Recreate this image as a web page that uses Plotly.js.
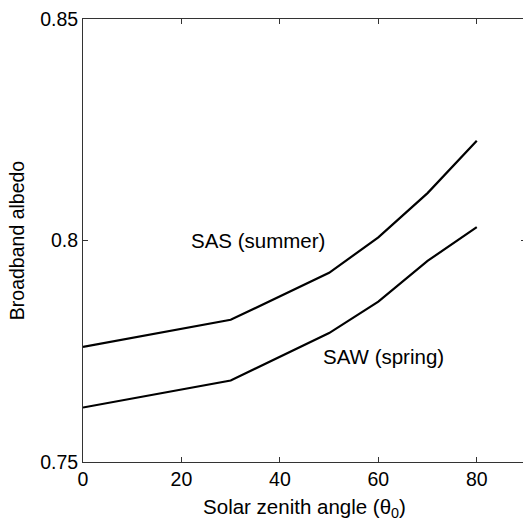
<!DOCTYPE html>
<html>
<head>
<meta charset="utf-8">
<script src="https://cdn.plot.ly/plotly-3.0.1.min.js"></script>
<style>
html,body{margin:0;padding:0;overflow:hidden;background:#fff;}
#chart{width:526px;height:521px;}
</style>
</head>
<body>
<div id="chart"></div>
<script>
const zenithAngles = [0, 30, 50, 60, 70, 80];
const sasSummer = [0.7760, 0.7821, 0.7927, 0.8007, 0.8107, 0.8225];
const sawSpring = [0.7623, 0.7684, 0.7791, 0.7862, 0.7954, 0.8030];
const xTicks = [0, 20, 40, 60, 80];
const yTicks = [0.75, 0.8, 0.85];
const yTickLabels = ['0.75', '0.8', '0.85'];

const font = {family: 'Liberation Sans, Arial, Helvetica, sans-serif', size: 19.5, color: '#000'};
const labelFont = {family: 'Liberation Sans, Arial, Helvetica, sans-serif', size: 20.5, color: '#000'};

const traces = [
  {x: zenithAngles, y: sasSummer, mode: 'lines', name: 'SAS (summer)',
   line: {color: '#000', width: 2.2}, hoverinfo: 'none'},
  {x: zenithAngles, y: sawSpring, mode: 'lines', name: 'SAW (spring)',
   line: {color: '#000', width: 2.2}, hoverinfo: 'none'}
];

const layout = {
  width: 526, height: 521,
  margin: {l: 83, r: 0, t: 19, b: 59, pad: 0},
  showlegend: false,
  paper_bgcolor: '#fff', plot_bgcolor: '#fff',
  font: font,
  xaxis: {
    range: [0, 90], tickvals: xTicks, ticktext: xTicks.map(String),
    ticks: 'inside', ticklen: 5, tickcolor: '#333', tickwidth: 1,
    showline: true, linecolor: '#333', linewidth: 1, mirror: 'ticks',
    showgrid: false, zeroline: false,
    tickfont: font,
    title: {text: 'Solar zenith angle (θ<sub>0</sub>)', font: labelFont, standoff: 10}
  },
  yaxis: {
    range: [0.75, 0.85], tickvals: yTicks, ticktext: yTickLabels,
    ticks: 'inside', ticklen: 5, tickcolor: '#333', tickwidth: 1,
    showline: true, linecolor: '#333', linewidth: 1, mirror: 'ticks',
    showgrid: false, zeroline: false,
    tickfont: font,
    title: {text: 'Broadband albedo', font: font, standoff: 10}
  },
  annotations: [
    {x: 35.5, y: 0.8, xref: 'x', yref: 'y', text: 'SAS (summer)', showarrow: false, font: labelFont},
    {x: 61.1, y: 0.7739, xref: 'x', yref: 'y', text: 'SAW (spring)', showarrow: false, font: labelFont}
  ]
};

Plotly.newPlot('chart', traces, layout, {staticPlot: true, displayModeBar: false});
</script>
</body>
</html>
